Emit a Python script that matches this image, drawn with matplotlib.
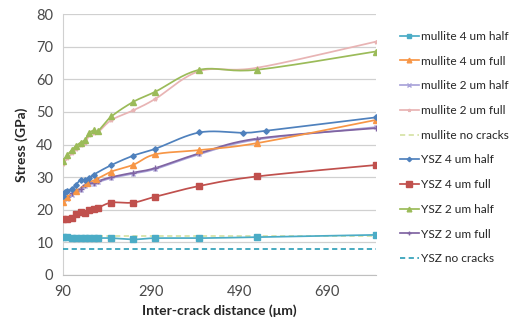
import numpy as np
import matplotlib
matplotlib.use("Agg")
import matplotlib.pyplot as plt
from matplotlib.lines import Line2D

plt.rcParams['font.family'] = ['Lato', 'DejaVu Sans']

# ---- data ----
x_common = [90, 100, 110, 120, 130, 140, 150, 160, 170, 200, 250, 300, 400, 530, 800]
x_ysz4half = [90, 95, 100, 110, 120, 130, 140, 150, 160, 200, 250, 300, 400, 500, 550, 800]
x_mul4full = [90, 100, 120, 145, 165, 200, 250, 300, 400, 530, 800]
x_nocrack = [90, 800]

mullite_4_half = [11.6, 11.5, 11.4, 11.3, 11.3, 11.2, 11.2, 11.2, 11.3, 11.3, 10.9, 11.3, 11.3, 11.6, 12.3]
mullite_4_full = [22.5, 24.0, 25.6, 28.1, 29.3, 31.7, 33.8, 37.0, 38.3, 40.4, 47.5]
mullite_2_half = [23.0, 23.3, 24.6, 25.5, 26.2, 27.2, 27.9, 28.0, 28.5, 29.7, 31.1, 32.5, 37.0, 41.5, 45.3]
mullite_2_full = [34.0, 35.8, 37.3, 38.6, 39.7, 40.6, 42.8, 43.6, 43.8, 47.5, 50.5, 54.0, 62.5, 63.5, 71.5]
mullite_no_cracks = [12.0, 12.0]
ysz_4_half = [24.2, 25.3, 25.8, 26.3, 27.7, 29.2, 29.1, 29.8, 30.8, 33.7, 36.6, 38.7, 43.7, 43.6, 44.2, 48.3]
ysz_4_full = [17.1, 17.1, 17.6, 18.6, 19.4, 19.1, 19.9, 20.2, 20.6, 22.2, 22.2, 24.0, 27.3, 30.2, 33.7]
ysz_2_half = [35.0, 36.8, 38.3, 39.6, 40.6, 41.4, 43.6, 44.3, 44.2, 48.6, 53.1, 56.2, 62.9, 62.9, 68.5]
ysz_2_full = [23.5, 23.8, 25.0, 25.8, 26.5, 27.5, 28.2, 28.3, 28.8, 30.0, 31.4, 32.8, 37.3, 41.8, 45.0]
ysz_no_cracks = [7.9, 7.9]

x_ticks = [90, 290, 490, 690]
y_ticks = [0, 10, 20, 30, 40, 50, 60, 70, 80]


def smooth(xs, ys, n=20):
    xs = np.asarray(xs, float)
    ys = np.asarray(ys, float)
    if len(xs) < 3:
        return xs, ys
    P = np.column_stack([xs, ys])
    out = [P[0]]
    for i in range(len(P) - 1):
        p0 = P[i - 1] if i > 0 else P[i]
        p1 = P[i]
        p2 = P[i + 1]
        p3 = P[i + 2] if i + 2 < len(P) else P[i + 1]
        c1 = p1 + (p2 - p0) / 6.0
        c2 = p2 - (p3 - p1) / 6.0
        t = np.linspace(0, 1, n)[1:, None]
        seg = ((1 - t) ** 3) * p1 + 3 * ((1 - t) ** 2) * t * c1 + 3 * (1 - t) * t ** 2 * c2 + t ** 3 * p2
        out.extend(seg)
    out = np.array(out)
    return out[:, 0], out[:, 1]


series = [
    ("mullite 4 um half", x_common, mullite_4_half, '#4BACC6', 's', 3.8, '-'),
    ("mullite 4 um full", x_mul4full, mullite_4_full, '#F79646', '^', 4.2, '-'),
    ("mullite 2 um half", x_common, mullite_2_half, '#A9A3D9', 'x', 3.2, '-'),
    ("mullite 2 um full", x_common, mullite_2_full, '#E8B4B4', '*', 2.8, '-'),
    ("mullite no cracks", x_nocrack, mullite_no_cracks, '#D6E3A6', None, 0, '--'),
    ("YSZ 4 um half", x_ysz4half, ysz_4_half, '#4F81BD', 'D', 2.8, '-'),
    ("YSZ 4 um full", x_common, ysz_4_full, '#C0504D', 's', 4.6, '-'),
    ("YSZ 2 um half", x_common, ysz_2_half, '#9BBB59', '^', 4.2, '-'),
    ("YSZ 2 um full", x_common, ysz_2_full, '#8064A2', '+', 3.8, '-'),
    ("YSZ no cracks", x_nocrack, ysz_no_cracks, '#31A0B8', None, 0, '--'),
]

fig = plt.figure(figsize=(5.13, 3.28), dpi=100)
ax = fig.add_axes([63 / 513, 1 - 275 / 328, (376 - 63) / 513, (275 - 14) / 328])

handles = []
order = [4, 9, 0, 2, 3, 8, 1, 6, 5, 7]
for idx in order:
    label, xs, ys, col, mk, ms, ls = series[idx]
    sx, sy = smooth(xs, ys)
    ax.plot(sx, sy, color=col, lw=1.25, ls=ls, dashes=(3, 2) if ls == '--' else (None, None), zorder=3)
    if mk:
        ax.plot(xs, ys, ls='none', marker=mk, ms=ms, color=col, mec=col, mew=1.0, zorder=4)

for label, xs, ys, col, mk, ms, ls in series:
    h = Line2D([], [], color=col, lw=1.25, ls=ls, marker=mk if mk else None, ms=ms * 0.8,
               mec=col, mew=1.0)
    if ls == '--':
        h.set_dashes((3, 2))
    handles.append(h)

ax.set_xlim(90, 801)
ax.set_ylim(0, 80)
ax.set_xticks(x_ticks)
ax.set_yticks(y_ticks)
ax.yaxis.grid(True, color='#D0D0D0', lw=0.9)
ax.set_axisbelow(True)
for s in ['top', 'right']:
    ax.spines[s].set_visible(False)
ax.spines['left'].set_color('#D0D0D0')
ax.spines['bottom'].set_color('#BFBFBF')
ax.tick_params(length=0, labelsize=10.5, colors='#4A4A4A', pad=7)
ax.set_ylabel('Stress (GPa)', fontsize=10, fontweight='bold', color='#262626', labelpad=6)
ax.set_xlabel('Inter-crack distance (μm)', fontsize=10, fontweight='bold', color='#262626', labelpad=4)

leg = fig.legend(handles=handles, labels=[s[0] for s in series], loc='upper left',
                 bbox_to_anchor=(395 / 513, 1 - 26 / 328), frameon=False, fontsize=8.6,
                 handlelength=1.6, handletextpad=0.2, labelspacing=1.15, borderaxespad=0)
for t in leg.get_texts():
    t.set_color('#262626')

fig.savefig('out.png', dpi=100)
